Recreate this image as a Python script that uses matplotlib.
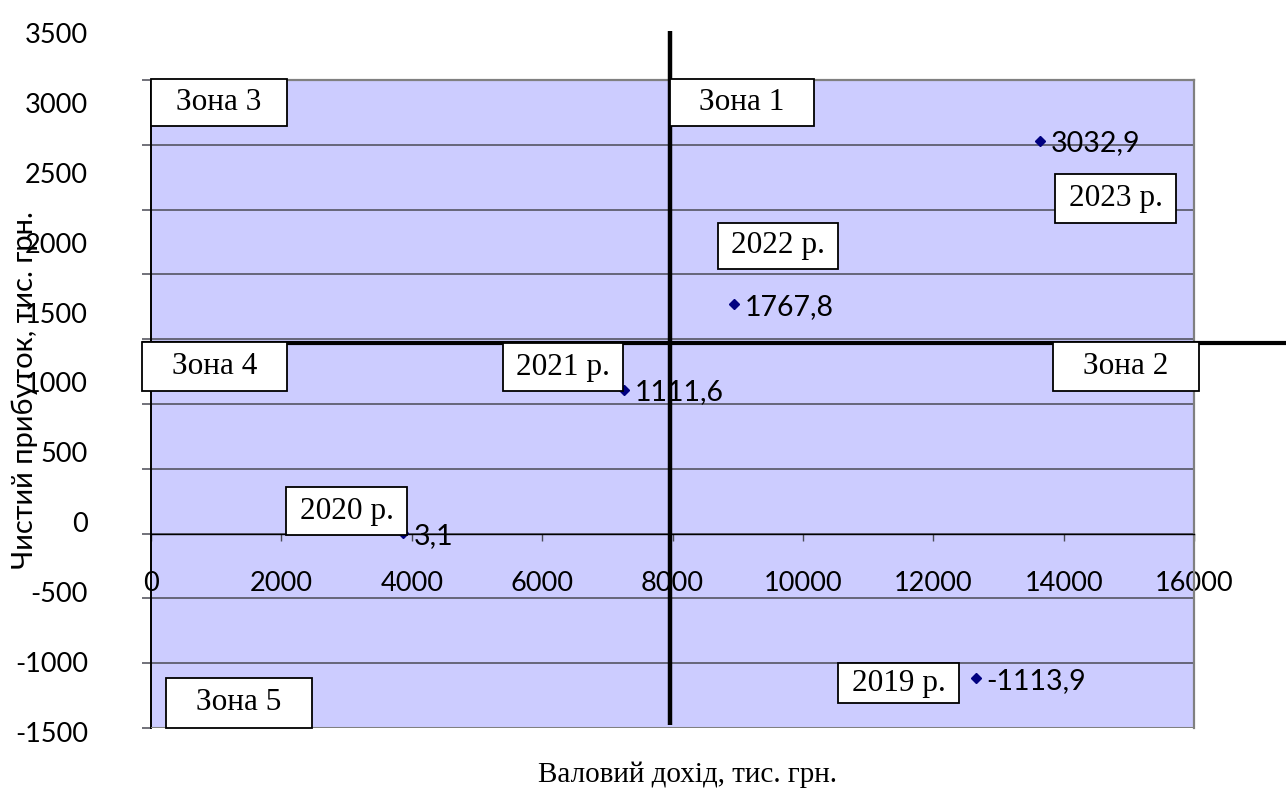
import matplotlib
matplotlib.use("Agg")
import matplotlib.pyplot as plt
from matplotlib.patches import Rectangle

# years, gross income (x) and net profit (y), thousand UAH
years = ["2019 р.", "2020 р.", "2021 р.", "2022 р.", "2023 р."]
income = [12650, 3865, 7255, 8940, 13635]
profit = [-1113.9, 3.1, 1111.6, 1767.8, 3032.9]
value_labels = ["-1113,9", "3,1", "1111,6", "1767,8", "3032,9"]

x_ticks = [0, 2000, 4000, 6000, 8000, 10000, 12000, 14000, 16000]
y_ticks = [-1500, -1000, -500, 0, 500, 1000, 1500, 2000, 2500, 3000, 3500]

zone_names = ["Зона 1", "Зона 2", "Зона 3", "Зона 4", "Зона 5"]
# zone dividers (thick black lines)
zone_x = 7960
zone_y = 1470

W, H = 1286, 809
SANS = ["Lato", "Open Sans", "DejaVu Sans"]
SERIF = ["Liberation Serif", "DejaVu Serif"]
GRID = "#4a4a55"


def fx(px):
    return px / W


def fy(py):
    return 1 - py / H


def text_box(fig, x0, y0, x1, y1, label):
    """white framed label, given in pixel coordinates from top-left"""
    fig.add_artist(Rectangle((fx(x0), fy(y1)), fx(x1) - fx(x0), fy(y0) - fy(y1),
                             transform=fig.transFigure, facecolor="white",
                             edgecolor="black", linewidth=1.3, zorder=6))
    fig.text(fx((x0 + x1) / 2), fy((y0 + y1) / 2), label, family=SERIF,
             fontsize=22.5, ha="center", va="center", zorder=7)


fig = plt.figure(figsize=(W / 100, H / 100), dpi=100)
ax = fig.add_axes([fx(151), fy(728), fx(1194) - fx(151), fy(80) - fy(728)])
ax.set_facecolor("#CCCCFF")
ax.set_xlim(0, 16000)
ax.set_ylim(-1500, 3500)

# horizontal gridlines, tick marks poke out to the left
ax.set_yticks(y_ticks)
ax.set_yticklabels([])
ax.yaxis.grid(True, color=GRID, linewidth=1.1)
ax.tick_params(axis="y", length=6.5, width=1.1, color=GRID)
ax.set_axisbelow(True)

# x axis runs through zero
ax.spines["bottom"].set_position(("data", 0))
ax.spines["bottom"].set_color("black")
ax.spines["bottom"].set_linewidth(1)
ax.spines["left"].set_color("black")
ax.spines["left"].set_linewidth(1.4)
for s in ["top", "right"]:
    ax.spines[s].set_color("#808080")
    ax.spines[s].set_linewidth(1.6)
ax.axhline(-1500, color="#808080", linewidth=2.2, zorder=3)
ax.set_xticks(x_ticks)
ax.set_xticklabels([str(v) for v in x_ticks], family=SANS, fontsize=19.5)
ax.tick_params(axis="x", direction="out", length=5, width=1, color=GRID, pad=22)

# thick zone dividers
ax.plot([zone_x, zone_x], [3880, -1480], color="black", linewidth=3.2,
        clip_on=False, zorder=4, solid_capstyle="butt")
ax.plot([-140, 17500], [zone_y, zone_y], color="black", linewidth=3.0,
        clip_on=False, zorder=4, solid_capstyle="butt")

ax.plot(income, profit, linestyle="none", marker="D", markersize=5.5,
        color="#000080", zorder=5)
for xv, yv, lab in zip(income, profit, value_labels):
    ax.annotate(lab, (xv, yv), xytext=(8, -2), textcoords="offset points",
                family=SANS, fontsize=20.5, va="center", ha="left", zorder=5)

# y tick labels sit on their own scale left of the plot
lab_ax = fig.add_axes([fx(88), fy(732), 0.001, fy(33) - fy(732)])
lab_ax.set_ylim(-1500, 3500)
lab_ax.set_yticks(y_ticks)
lab_ax.set_yticklabels([str(v) for v in y_ticks], family=SANS, fontsize=19.5)
lab_ax.tick_params(axis="y", length=0, pad=0)
lab_ax.set_xticks([])
lab_ax.patch.set_visible(False)
for s in lab_ax.spines.values():
    s.set_visible(False)

# zone and year boxes
text_box(fig, 670, 79, 814, 126, zone_names[0])
text_box(fig, 1053, 342, 1199, 391, zone_names[1])
text_box(fig, 151, 79, 287, 126, zone_names[2])
text_box(fig, 142, 342, 287, 391, zone_names[3])
text_box(fig, 166, 678, 312, 728, zone_names[4])
text_box(fig, 838, 663, 959, 703, years[0])
text_box(fig, 286, 487, 407, 535, years[1])
text_box(fig, 503, 343, 623, 391, years[2])
text_box(fig, 718, 223, 838, 269, years[3])
text_box(fig, 1055, 174, 1176, 223, years[4])

fig.text(fx(25), fy(390), "Чистий прибуток, тис. грн.", family=SANS,
         fontsize=21, rotation=90, ha="center", va="center")
fig.text(fx(688), fy(775), "Валовий дохід, тис. грн.", family=SERIF,
         fontsize=21, ha="center", va="center")

fig.savefig("out.png", dpi=100)
